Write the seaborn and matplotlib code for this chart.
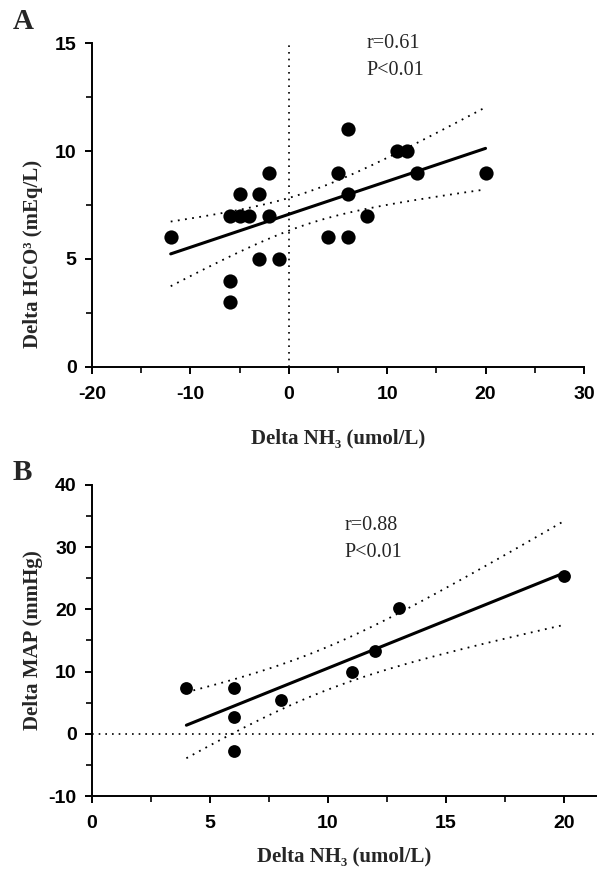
import numpy as np
import pandas as pd
import matplotlib
matplotlib.use("Agg")
import matplotlib.pyplot as plt
from matplotlib.ticker import MultipleLocator
import seaborn as sns

sns.set_theme(style="ticks")
plt.rcParams['font.family'] = ['Liberation Sans', 'DejaVu Sans']
plt.rcParams['axes.edgecolor'] = 'black'
plt.rcParams['xtick.color'] = 'black'
plt.rcParams['ytick.color'] = 'black'
plt.rcParams['axes.unicode_minus'] = False

SERIF = ['Liberation Serif', 'DejaVu Serif']

# panel A: delta NH3 vs delta HCO3
nh3_a = [-12, -6, -6, -6, -5, -5, -4, -3, -3, -2, -2, -1, 4, 5, 6, 6, 6, 8, 11, 12, 13, 20]
hco3_a = [6, 7, 4, 3, 8, 7, 7, 8, 5, 9, 7, 5, 6, 9, 11, 8, 6, 7, 10, 10, 9, 9]

# panel B: delta NH3 vs delta MAP
nh3_b = [4, 6, 6, 6, 8, 11, 12, 13, 20]
map_b = [7.3, 7.3, 2.7, -2.7, 5.4, 10.0, 13.3, 20.3, 25.3]

stats_a = ["r=0.61", "P<0.01"]
stats_b = ["r=0.88", "P<0.01"]

T975 = {7: 2.365, 20: 2.086}  # t(0.975, dof) for the two panels


def ci_band(x, y, n=100):
    # 95% confidence band of the fitted mean
    x = np.asarray(x, float)
    y = np.asarray(y, float)
    b, a = np.polyfit(x, y, 1)
    resid = y - (a + b * x)
    dof = len(x) - 2
    s = np.sqrt(np.sum(resid ** 2) / dof)
    t = T975.get(dof, 2.0)
    xs = np.linspace(x.min(), x.max(), n)
    se = s * np.sqrt(1 / len(x) + (xs - x.mean()) ** 2 / np.sum((x - x.mean()) ** 2))
    fit = a + b * xs
    return xs, fit - t * se, fit + t * se


def draw_panel(ax, x, y, size):
    df = pd.DataFrame({"x": x, "y": y})
    sns.regplot(data=df, x="x", y="y", ax=ax, ci=None, color="black",
                scatter_kws={"s": size, "alpha": 1, "linewidths": 0, "zorder": 3},
                line_kws={"linewidth": 2.2, "zorder": 2})
    xs, lo, hi = ci_band(x, y)
    ax.plot(xs, lo, color="black", linestyle=(0, (1, 3)), linewidth=1.3)
    ax.plot(xs, hi, color="black", linestyle=(0, (1, 3)), linewidth=1.3)


def style_axes(ax):
    sns.despine(ax=ax)
    for sp in ax.spines.values():
        sp.set_linewidth(1.4)
    ax.tick_params(which="major", length=5, width=1.4, labelsize=14)
    ax.tick_params(axis="x", which="major", pad=9)
    ax.tick_params(axis="y", which="major", pad=6)
    ax.tick_params(which="minor", length=4, width=1.2)
    for lab in ax.get_xticklabels() + ax.get_yticklabels():
        lab.set_fontweight("bold")
    ax.yaxis.label.set_verticalalignment("center")


fig = plt.figure(figsize=(5.97, 8.69), dpi=100)
ax1 = fig.add_axes([0.1541, 0.5777, 0.8240, 0.3728])
ax2 = fig.add_axes([0.1541, 0.0840, 0.8459, 0.3579])

# --- A ---
draw_panel(ax1, nh3_a, hco3_a, 105)
ax1.axvline(0, color="black", linestyle=(0, (1, 3)), linewidth=1.2, zorder=1)
ax1.set_xlim(-20, 30)
ax1.set_ylim(0, 15)
ax1.xaxis.set_major_locator(MultipleLocator(10))
ax1.xaxis.set_minor_locator(MultipleLocator(5))
ax1.yaxis.set_major_locator(MultipleLocator(5))
ax1.yaxis.set_minor_locator(MultipleLocator(2.5))
ax1.set_xlabel("Delta NH₃ (umol/L)", family=SERIF, fontweight="bold", fontsize=15, labelpad=18)
ax1.set_ylabel("Delta HCO³ (mEq/L)", family=SERIF, fontweight="bold", fontsize=15)
style_axes(ax1)
ax1.yaxis.set_label_coords(-0.12, 0.35)
ax1.text(7.9, 15.0, stats_a[0], family=SERIF, fontsize=14.5, va="center")
ax1.text(7.9, 13.75, stats_a[1], family=SERIF, fontsize=14.5, va="center")
fig.text(0.021, 0.975, "A", family=SERIF, fontweight="bold", fontsize=21, va="center")

# --- B ---
draw_panel(ax2, nh3_b, map_b, 85)
ax2.axhline(0, color="black", linestyle=(0, (1, 3)), linewidth=1.2, zorder=1)
ax2.set_xlim(0, 21.4)
ax2.set_ylim(-10, 40)
ax2.xaxis.set_major_locator(MultipleLocator(5))
ax2.xaxis.set_minor_locator(MultipleLocator(2.5))
ax2.yaxis.set_major_locator(MultipleLocator(10))
ax2.yaxis.set_minor_locator(MultipleLocator(5))
ax2.set_xlabel("Delta NH₃ (umol/L)", family=SERIF, fontweight="bold", fontsize=15, labelpad=10)
ax2.set_ylabel("Delta MAP (mmHg)", family=SERIF, fontweight="bold", fontsize=15)
style_axes(ax2)
ax2.yaxis.set_label_coords(-0.117, 0.5)
ax2.text(10.7, 33.5, stats_b[0], family=SERIF, fontsize=14.5, va="center")
ax2.text(10.7, 29.2, stats_b[1], family=SERIF, fontsize=14.5, va="center")
fig.text(0.021, 0.456, "B", family=SERIF, fontweight="bold", fontsize=21, va="center")

fig.savefig("out.png", dpi=100)
